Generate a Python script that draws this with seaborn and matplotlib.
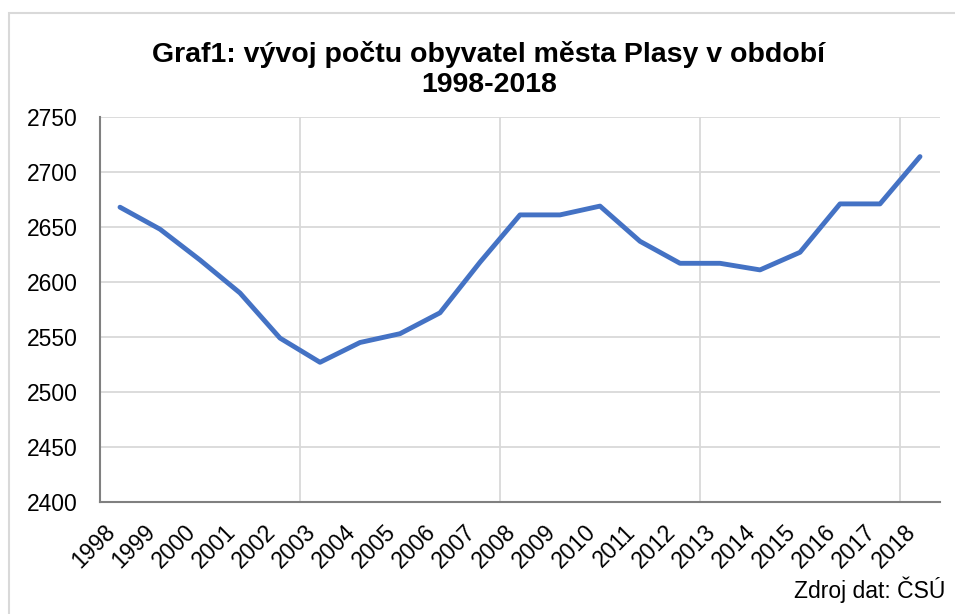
import numpy as np
import pandas as pd
import seaborn as sns
from matplotlib import pyplot as plt
from matplotlib.patches import Rectangle

# population of Plasy, 1998-2018
years = [str(y) for y in range(1998, 2019)]
population = [2668, 2648, 2620, 2590, 2549, 2527, 2545, 2553, 2572, 2618,
              2661, 2661, 2669, 2637, 2617, 2617, 2611, 2627, 2671, 2671, 2714]
y_ticks = [2400, 2450, 2500, 2550, 2600, 2650, 2700, 2750]

title = "Graf1: vývoj počtu obyvatel města Plasy v období\n1998-2018"
source = "Zdroj dat: ČSÚ"

sns.set_style("white")
plt.rcParams["font.family"] = ["Liberation Sans", "DejaVu Sans"]
plt.rcParams["text.color"] = "black"

df = pd.DataFrame({"pos": np.arange(len(years)), "population": population})

f = plt.figure(figsize=(9.55, 6.14), dpi=100)
ax = f.add_axes([100 / 955, 1 - 502 / 614, 840 / 955, 385 / 614])

sns.lineplot(ax=ax, data=df, x="pos", y="population",
             color="#4472C4", linewidth=3.5, solid_capstyle="round", zorder=3)

ax.set_xlim(-0.5, len(years) - 0.5)
ax.set_ylim(y_ticks[0], y_ticks[-1])
ax.set_yticks(y_ticks)
ax.set_xticks(np.arange(len(years)))
ax.set_xticklabels(years, rotation=45, ha="right")
ax.tick_params(axis="both", length=0, labelsize=16.5, colors="black")
ax.tick_params(axis="y", pad=16)
ax.tick_params(axis="x", pad=13)
ax.set_xlabel("")
ax.set_ylabel("")

# gridlines: horizontal at every tick, vertical every five categories
for yv in y_ticks[1:]:
    ax.axhline(yv, color="#d9d9d9", linewidth=1.3, zorder=1)
for xv in np.arange(4.5, len(years) - 1, 5):
    ax.axvline(xv, color="#d9d9d9", linewidth=1.3, zorder=1)

for side in ["top", "right"]:
    ax.spines[side].set_visible(False)
for side in ["left", "bottom"]:
    ax.spines[side].set_color("#808080")
    ax.spines[side].set_linewidth(1.5)
    ax.spines[side].set_zorder(2)

f.text(489 / 955, 1 - 69 / 614, title, ha="center", va="center",
       fontsize=20.5, fontweight="bold", linespacing=1.2, color="black")
f.text(945 / 955, 1 - 590 / 614, source, ha="right", va="center",
       fontsize=16.5, color="black")

# light chart-area border
f.patches.append(Rectangle((9 / 955, -0.05), 1.0, 1 - 13 / 614 + 0.05,
                           transform=f.transFigure, fill=False,
                           edgecolor="#d9d9d9", linewidth=1.5))

f.savefig("out.png", dpi=100)
